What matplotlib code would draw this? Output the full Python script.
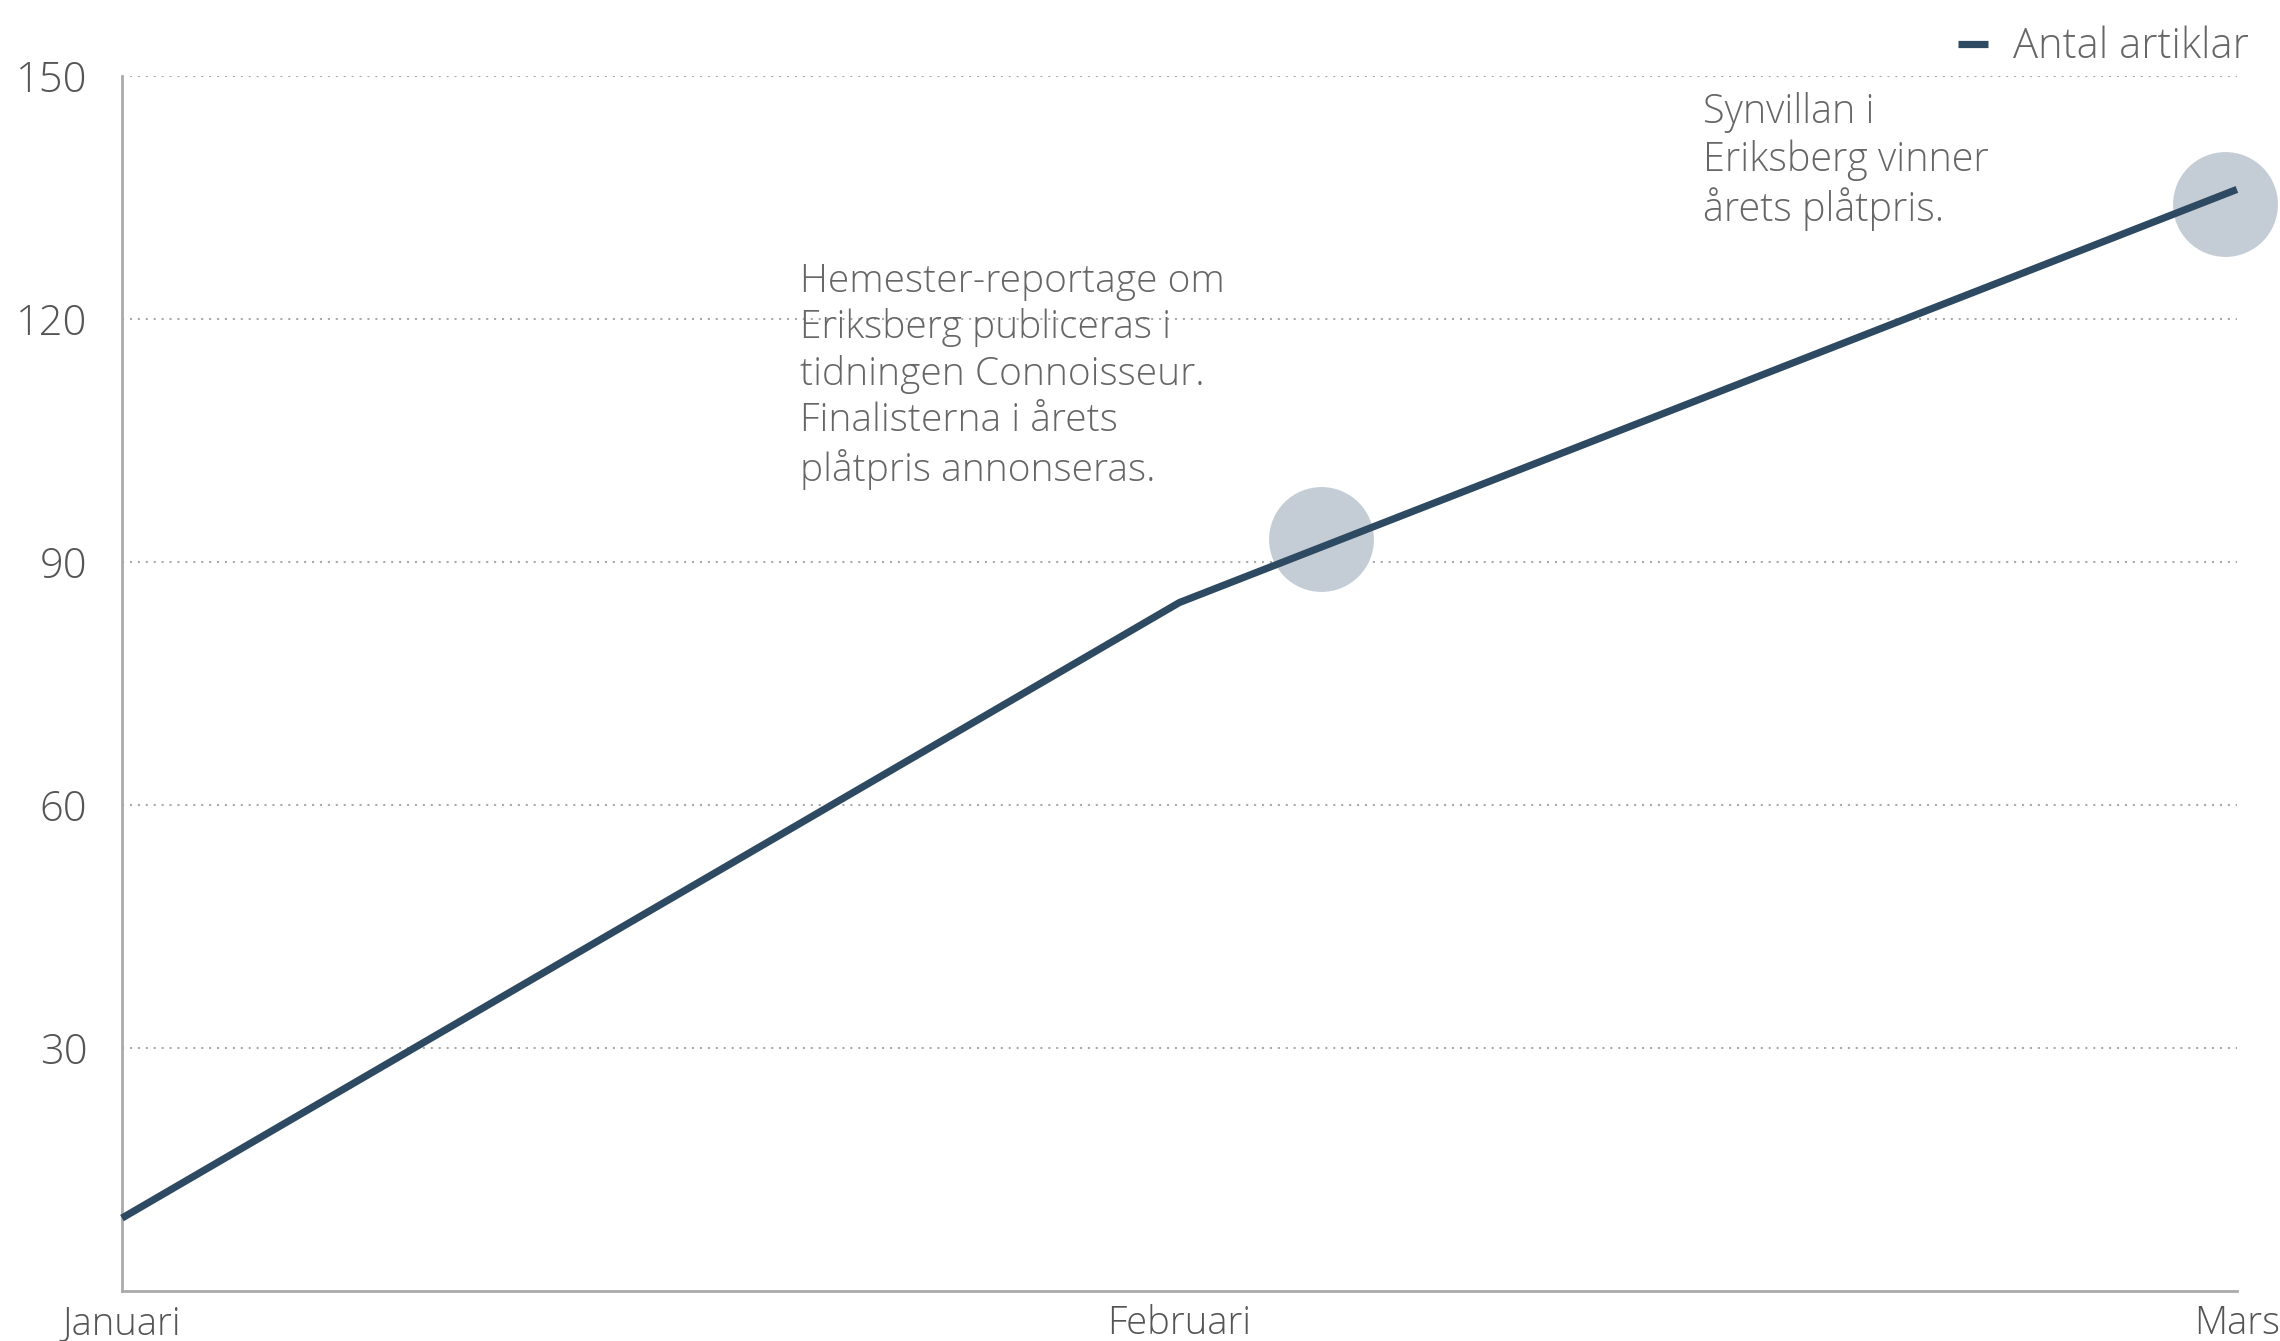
import matplotlib
matplotlib.use("Agg")
import matplotlib.pyplot as plt

plt.rcParams['font.family'] = ['Open Sans', 'DejaVu Sans']

# antal artiklar per manad
manader = ['Januari', 'Februari', 'Mars']
antal = [9, 85, 136]

# handelser markerade med cirklar (position i manadsindex, varde)
handelse_x = [1.134, 1.989]
handelse_y = [92.8, 134.2]

yticks = [30, 60, 90, 120, 150]

linjefarg = '#2e4a62'
cirkelfarg = '#c4cdd5'
textfarg = '#666666'
axelfarg = '#aaaaaa'

fig = plt.figure(figsize=(22.8, 13.41), dpi=100)
ax = fig.add_axes([0.0535, 0.0373, 0.9276, 0.906])

x = list(range(len(manader)))
ax.scatter(handelse_x, handelse_y, s=5700, color=cirkelfarg, zorder=2,
           linewidths=0, clip_on=False)
ax.plot(x, antal, color=linjefarg, lw=5.2, solid_capstyle='butt', zorder=3,
        label='Antal artiklar', clip_on=False)

ax.set_xlim(0, 2)
ax.set_ylim(0, 150)
ax.set_xticks(x)
ax.set_xticklabels(manader)
ax.set_yticks(yticks)

ax.grid(axis='y', color=axelfarg, lw=1.5, linestyle=(0, (1, 2.8)), zorder=1)
ax.set_axisbelow(True)

for s in ['top', 'right']:
    ax.spines[s].set_visible(False)
for s in ['left', 'bottom']:
    ax.spines[s].set_color(axelfarg)
    ax.spines[s].set_linewidth(2)

ax.tick_params(axis='y', length=0, pad=25, labelsize=30, labelcolor='#555555')
ax.tick_params(axis='x', length=0, pad=10, labelsize=27.5, labelcolor='#555555')
for lab in ax.get_xticklabels() + ax.get_yticklabels():
    lab.set_fontweight('light')

# kommentarer
ax.text(0.351, 0.8045, 'Hemester-reportage om\nEriksberg publiceras i\n'
        'tidningen Connoisseur.\nFinalisterna i årets\nplåtpris annonseras.',
        transform=fig.transFigure, fontsize=28, color=textfarg,
        fontweight='light', va='top', ha='left', linespacing=1.26)
ax.text(0.747, 0.9315, 'Synvillan i\nEriksberg vinner\nårets plåtpris.',
        transform=fig.transFigure, fontsize=28.5, color=textfarg,
        fontweight='light', va='top', ha='left', linespacing=1.2)

leg = fig.legend(loc='center right', bbox_to_anchor=(0.9865, 0.965),
                 frameon=False, fontsize=30, handlelength=0.72,
                 handletextpad=0.6, borderpad=0, borderaxespad=0)
for t in leg.get_texts():
    t.set_color(textfarg)
    t.set_fontweight('light')

fig.savefig('out.png', dpi=100)
